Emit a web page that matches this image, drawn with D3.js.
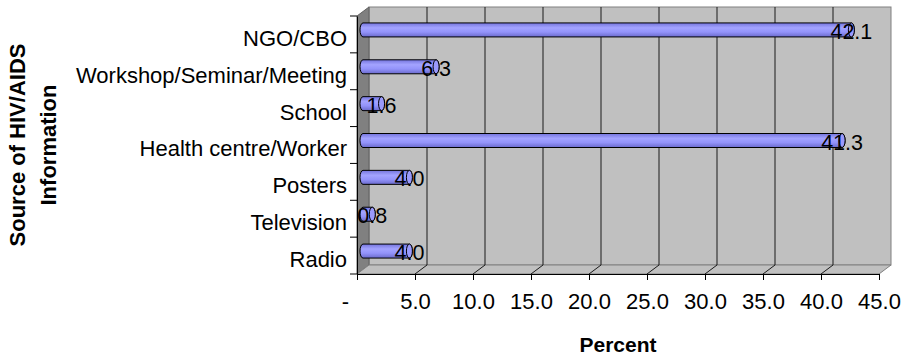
<!DOCTYPE html>
<html>
<head>
<meta charset="utf-8">
<script src="https://cdnjs.cloudflare.com/ajax/libs/d3/7.8.5/d3.min.js"></script>
<style>
  body { margin: 0; background: #fff; }
  text { font-family: "Liberation Sans", Arial, sans-serif; fill: #000; }
</style>
</head>
<body>
<div id="chart"></div>
<script>
// chart data, top row first
var categories = ["NGO/CBO", "Workshop/Seminar/Meeting", "School", "Health centre/Worker",
                  "Posters", "Television", "Radio"];
var percents = [42.1, 6.3, 1.6, 41.3, 4.0, 0.8, 4.0];
var xTicks = [0, 5, 10, 15, 20, 25, 30, 35, 40, 45];

var width = 908, height = 358;

// front plane of the 3d box
var plot = {left: 357, right: 879, top: 16, bottom: 274};
// depth offset of the back wall
var depth = {dx: 12, dy: -9};

var x = d3.scaleLinear()
    .domain([0, 45])
    .range([plot.left, plot.right]);
var y = d3.scaleBand()
    .domain(categories)
    .range([plot.top, plot.bottom]);

var svg = d3.select("#chart").append("svg")
    .attr("width", width)
    .attr("height", height);

// bar gradient (cylinder shading)
var grad = svg.append("defs").append("linearGradient")
    .attr("id", "cyl")
    .attr("x1", 0).attr("y1", 0).attr("x2", 0).attr("y2", 1);
grad.append("stop").attr("offset", "0%").attr("stop-color", "#7474dc");
grad.append("stop").attr("offset", "35%").attr("stop-color", "#a3a3ff");
grad.append("stop").attr("offset", "65%").attr("stop-color", "#9393fa");
grad.append("stop").attr("offset", "100%").attr("stop-color", "#6a6acc");

// back wall
svg.append("rect")
    .attr("x", plot.left + depth.dx)
    .attr("y", plot.top + depth.dy)
    .attr("width", plot.right - plot.left)
    .attr("height", plot.bottom - plot.top)
    .attr("fill", "#c0c0c0")
    .attr("stroke", "#808080");

// left wall
svg.append("polygon")
    .attr("points", [
      [plot.left, plot.top], [plot.left + depth.dx, plot.top + depth.dy],
      [plot.left + depth.dx, plot.bottom + depth.dy], [plot.left, plot.bottom]
    ].join(" "))
    .attr("fill", "#808080")
    .attr("stroke", "#606060");

// floor
svg.append("polygon")
    .attr("points", [
      [plot.left, plot.bottom], [plot.right, plot.bottom],
      [plot.right + depth.dx, plot.bottom + depth.dy], [plot.left + depth.dx, plot.bottom + depth.dy]
    ].join(" "))
    .attr("fill", "#c0c0c0")
    .attr("stroke", "#808080");

// gridlines on back wall and floor
var inner = xTicks.slice(1, -1);
svg.selectAll(".grid")
    .data(inner)
  .enter().append("polyline")
    .attr("class", "grid")
    .attr("fill", "none")
    .attr("stroke", "#1a1a1a")
    .attr("points", function(d) {
      return [[x(d), plot.bottom], [x(d) + depth.dx, plot.bottom + depth.dy],
              [x(d) + depth.dx, plot.top + depth.dy]].join(" ");
    });

// x axis
var xAxis = svg.append("g")
    .attr("transform", "translate(0," + plot.bottom + ")")
    .call(d3.axisBottom(x)
      .tickValues(xTicks)
      .tickSize(6)
      .tickSizeOuter(0)
      .tickPadding(13)
      .tickFormat(function(d) { return d === 0 ? "-" : d3.format(".1f")(d); }));
xAxis.selectAll("text")
    .style("font-size", "22px")
    .attr("dx", function(d) { return d === 0 ? -12 : 0; });
xAxis.selectAll("line, path").attr("stroke", "#000");

// y axis
var yAxis = svg.append("g")
    .attr("transform", "translate(" + plot.left + ",0)")
    .call(d3.axisLeft(y).tickSize(0).tickSizeOuter(0).tickPadding(10));
yAxis.selectAll("text")
    .style("font-size", "22px")
    .attr("dy", "0.52em");
yAxis.select(".domain").attr("stroke", "#000");

// category boundary ticks
svg.selectAll(".ytick")
    .data(d3.range(categories.length + 1))
  .enter().append("line")
    .attr("class", "ytick")
    .attr("x1", plot.left - 7)
    .attr("x2", plot.left)
    .attr("y1", function(i) { return plot.top + i * y.step(); })
    .attr("y2", function(i) { return plot.top + i * y.step(); })
    .attr("stroke", "#000");

// cylinder bars, placed at mid depth
var r = 7, capRx = 3;
function cy(d, i) { return y(categories[i]) + y.bandwidth() / 2 + depth.dy / 2; }
function x0() { return x(0) + depth.dx / 2; }
function x1(d) { return x(d) + depth.dx / 2; }

var bars = svg.selectAll(".bar")
    .data(percents)
  .enter().append("g")
    .attr("class", "bar");

bars.append("path")
    .attr("fill", "url(#cyl)")
    .attr("stroke", "#000")
    .attr("d", function(d, i) {
      var c = cy(d, i);
      return "M" + x0() + "," + (c - r) +
             "L" + x1(d) + "," + (c - r) +
             "A" + capRx + "," + r + " 0 0 1 " + x1(d) + "," + (c + r) +
             "L" + x0() + "," + (c + r) +
             "A" + capRx + "," + r + " 0 0 1 " + x0() + "," + (c - r) + "Z";
    });

bars.append("ellipse")
    .attr("cx", function(d) { return x1(d); })
    .attr("cy", function(d, i) { return cy(d, i); })
    .attr("rx", capRx)
    .attr("ry", r)
    .attr("fill", "#9a9afc")
    .attr("stroke", "#000");

// value labels
bars.append("text")
    .attr("x", function(d) { return x1(d); })
    .attr("y", function(d, i) { return cy(d, i) + 9; })
    .attr("text-anchor", "middle")
    .style("font-size", "21.5px")
    .text(function(d) { return d3.format(".1f")(d); });

// axis titles
svg.append("text")
    .attr("x", (plot.left + plot.right) / 2)
    .attr("y", 352)
    .attr("text-anchor", "middle")
    .style("font-size", "21px")
    .style("font-weight", "bold")
    .text("Percent");

var yTitle = svg.append("text")
    .attr("transform", "translate(25,145) rotate(-90)")
    .attr("text-anchor", "middle")
    .style("font-size", "22px")
    .style("font-weight", "bold");
yTitle.append("tspan").attr("x", 0).attr("y", 0).text("Source of HIV/AIDS");
yTitle.append("tspan").attr("x", 0).attr("y", 31).text("Information");
</script>
</body>
</html>
